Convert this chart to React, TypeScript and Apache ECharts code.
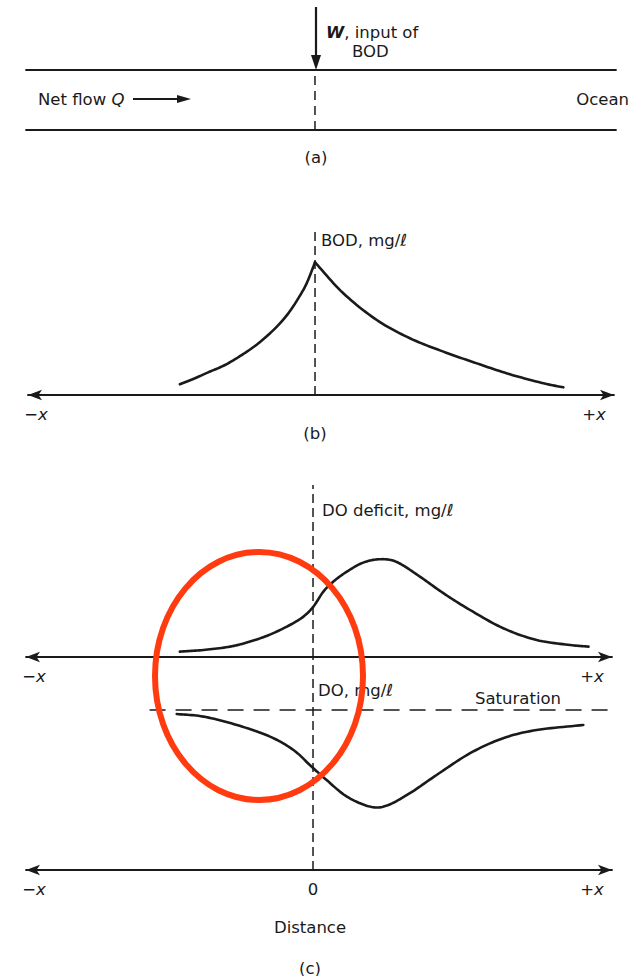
import React, { useEffect, useRef } from "react";
import * as echarts from "echarts";

// Panel (b): BOD vs distance (distance units, BOD in mg/ℓ, arbitrary scale)
const bodLeftDist = [-3.39, -3.01, -2.68, -2.26, -1.84, -1.42, -1.0, -0.67, -0.42, -0.21, 0];
const bodLeftVal = [0.66, 1.03, 1.39, 1.84, 2.45, 3.17, 4.09, 5.01, 5.93, 6.85, 8.14];
const bodRightDist = [0, 0.71, 1.55, 2.38, 3.22, 4.06, 4.89, 5.73, 6.23];
const bodRightVal = [8.14, 6.24, 4.6, 3.48, 2.66, 1.94, 1.27, 0.72, 0.47];

// Panel (c): DO deficit and DO vs distance
const deficitDist = [-3.34, -2.75, -2.08, -1.58, -1.08, -0.58, -0.24, 0.01, 0.26, 0.51, 0.85, 1.26, 1.68, 2.1, 2.68, 3.27, 3.94, 4.77, 5.61, 6.45, 6.91];
const deficitVal = [0.27, 0.35, 0.52, 0.77, 1.12, 1.6, 2.02, 2.52, 3.27, 3.77, 4.27, 4.72, 4.89, 4.75, 4.02, 3.19, 2.35, 1.44, 0.85, 0.6, 0.52];
const doDist = [-3.42, -2.75, -1.91, -1.08, -0.49, -0.08, 0.34, 0.85, 1.43, 1.85, 2.43, 3.1, 3.94, 4.77, 5.61, 6.78];
const doVal = [7.8, 7.67, 7.25, 6.67, 6.0, 5.25, 4.5, 3.67, 3.17, 3.22, 3.84, 4.75, 5.84, 6.59, 7.0, 7.25];
const saturationDist = [-4.1, 7.5];
const saturationVal = [8, 8];

// Axis ranges and tick labels
const xMin = -7.2;
const xMax = 7.5;
const tickValuesEnds = [-7.0, 7.0];
const tickLabelsEnds = ["{n|−}{i|x}", "{n|+}{i|x}"];
const tickValuesDist = [-7.0, 0, 7.0];
const tickLabelsDist = ["{n|−}{i|x}", "{n|0}", "{n|+}{i|x}"];
const bodMax = 10;
const deficitMax = 8.6;
const doMax = 10.65;

const INK = "#1a1a1a";
const FONT = "DejaVu Sans";
const FS = 16.5;

const zip = (xs: number[], ys: number[]) => xs.map((x, i) => [x, ys[i]]);

// Catmull-Rom spline through pixel points -> dense polyline for a smooth hand-drawn look
function spline(pts: number[][], steps = 12): number[][] {
  const n = pts.length;
  if (n < 3) return pts;
  const out: number[][] = [pts[0]];
  for (let i = 0; i < n - 1; i++) {
    const p1 = pts[i];
    const p2 = pts[i + 1];
    const p0 = i > 0 ? pts[i - 1] : [2 * p1[0] - p2[0], 2 * p1[1] - p2[1]];
    const p3 = i + 2 < n ? pts[i + 2] : [2 * p2[0] - p1[0], 2 * p2[1] - p1[1]];
    const c1 = [p1[0] + (p2[0] - p0[0]) / 6, p1[1] + (p2[1] - p0[1]) / 6];
    const c2 = [p2[0] - (p3[0] - p1[0]) / 6, p2[1] - (p3[1] - p1[1]) / 6];
    for (let s = 1; s <= steps; s++) {
      const t = s / steps;
      const u = 1 - t;
      const a = u * u * u, b = 3 * u * u * t, c = 3 * u * t * t, d = t * t * t;
      out.push([
        a * p1[0] + b * c1[0] + c * c2[0] + d * p2[0],
        a * p1[1] + b * c1[1] + c * c2[1] + d * p2[1],
      ]);
    }
  }
  return out;
}

export default function App() {
  const ref = useRef<HTMLDivElement>(null);
  useEffect(() => {
    document.body.style.margin = "0";
    const chart = echarts.init(ref.current!, null, { renderer: "svg" });

    const rich = {
      n: { fontFamily: FONT, fontSize: FS, color: INK },
      i: { fontFamily: FONT, fontSize: FS, color: INK, fontStyle: "italic" },
    };
    const labelFor = (vals: number[], labels: string[]) => (v: number) => {
      const k = vals.findIndex((t) => Math.abs(t - v) < 1e-6);
      return k >= 0 ? labels[k] : "";
    };
    const plainX = (grid: number, position: string) => ({
      type: "value",
      gridIndex: grid,
      position,
      min: xMin,
      max: xMax,
      axisLine: { show: true, onZero: false, lineStyle: { color: INK, width: 1.8 } },
      axisTick: { show: false },
      axisLabel: { show: false },
      splitLine: { show: false },
    });
    const arrowX = (grid: number, vals: number[], labels: string[]) => ({
      type: "value",
      gridIndex: grid,
      min: xMin,
      max: xMax,
      axisLine: {
        show: true,
        onZero: true,
        symbol: ["arrow", "arrow"],
        symbolSize: [8, 14],
        lineStyle: { color: INK, width: 1.8 },
      },
      axisTick: { show: false },
      splitLine: { show: false },
      axisLabel: {
        show: true,
        customValues: vals,
        margin: 11,
        formatter: labelFor(vals, labels),
        rich,
      },
    });
    const hiddenY = (grid: number, max: number) => ({
      type: "value",
      gridIndex: grid,
      min: 0,
      max,
      show: false,
      splitLine: { show: false },
    });
    const curve = (x: number, y: number, data: number[][], name: string) => ({
      type: "custom",
      name,
      xAxisIndex: x,
      yAxisIndex: y,
      data,
      clip: false,
      z: 5,
      renderItem: (params: any, api: any) => {
        if (params.dataIndex !== 0) return null;
        const pts = data.map((d) => api.coord(d));
        return {
          type: "polyline",
          shape: { points: spline(pts) },
          style: { stroke: INK, lineWidth: 2.6, fill: "none", lineCap: "round", lineJoin: "round" },
        };
      },
    });
    const dashed = (x: number, y: number, data: number[][], name: string, dash: number[]) => ({
      type: "line",
      name,
      xAxisIndex: x,
      yAxisIndex: y,
      data,
      showSymbol: false,
      lineStyle: { color: INK, width: 1.5, type: dash },
      z: 4,
    });

    const txt = (x: number, y: number, text: string, extra: any = {}) => ({
      type: "text",
      x,
      y,
      style: {
        text,
        fontFamily: FONT,
        fontSize: FS,
        fill: INK,
        textVerticalAlign: "middle",
        verticalAlign: "middle",
        ...extra,
      },
      z: 10,
    });

    chart.setOption({
      animation: false,
      backgroundColor: "#ffffff",
      grid: [
        { left: 26, width: 590, top: 70, height: 60 },
        { left: 28, width: 586, top: 232, height: 163 },
        { left: 26, width: 586, top: 485, height: 172 },
        { left: 26, width: 586, top: 657, height: 213 },
      ],
      xAxis: [
        plainX(0, "bottom"),
        plainX(0, "top"),
        arrowX(1, tickValuesEnds, tickLabelsEnds),
        arrowX(2, tickValuesEnds, tickLabelsEnds),
        arrowX(3, tickValuesDist, tickLabelsDist),
      ],
      yAxis: [hiddenY(0, 1), hiddenY(1, bodMax), hiddenY(2, deficitMax), hiddenY(3, doMax)],
      series: [
        dashed(0, 0, [[0, 0], [0, 1]], "outfall", [9, 6]),
        dashed(2, 1, [[0, 0], [0, bodMax]], "origin b", [9, 5]),
        curve(2, 1, zip(bodLeftDist, bodLeftVal), "BOD upstream"),
        curve(2, 1, zip(bodRightDist, bodRightVal), "BOD downstream"),
        dashed(3, 2, [[0, 0], [0, deficitMax]], "origin c1", [9, 5]),
        curve(3, 2, zip(deficitDist, deficitVal), "DO deficit"),
        dashed(4, 3, [[0, 0], [0, doMax]], "origin c2", [9, 5]),
        dashed(4, 3, zip(saturationDist, saturationVal), "Saturation", [16, 10]),
        curve(4, 3, zip(doDist, doVal), "DO"),
      ],
      graphic: [
        // W input arrow
        { type: "line", shape: { x1: 316, y1: 7, x2: 316, y2: 58 }, style: { stroke: INK, lineWidth: 2.2 }, z: 10 },
        { type: "polygon", shape: { points: [[311, 55], [321, 55], [316, 70]] }, style: { fill: INK }, z: 10 },
        txt(326, 32, "{b|W}, input of", {
          rich: { b: { fontFamily: FONT, fontSize: FS, fontWeight: "bold", fontStyle: "italic", fill: INK } },
        }),
        txt(352, 51, "BOD"),
        // Net flow
        txt(38, 99, "Net flow {i|Q}", {
          rich: { i: { fontFamily: FONT, fontSize: FS, fontStyle: "italic", fill: INK } },
        }),
        { type: "line", shape: { x1: 133, y1: 99, x2: 180, y2: 99 }, style: { stroke: INK, lineWidth: 1.8 }, z: 10 },
        { type: "polygon", shape: { points: [[177, 95], [177, 103], [191, 99]] }, style: { fill: INK }, z: 10 },
        txt(629, 99, "Ocean", { textAlign: "right", align: "right" }),
        txt(316, 157, "(a)", { textAlign: "center", align: "center" }),
        // Panel b
        txt(321, 240, "BOD, mg/ℓ"),
        txt(315, 433, "(b)", { textAlign: "center", align: "center" }),
        // Panel c
        txt(322, 510, "DO deficit, mg/ℓ"),
        txt(318, 690, "DO, mg/ℓ"),
        txt(475, 698, "Saturation"),
        txt(310, 927, "Distance", { textAlign: "center", align: "center" }),
        txt(310, 968, "(c)", { textAlign: "center", align: "center" }),
        // red annotation ellipse
        {
          type: "ellipse",
          shape: { cx: 259, cy: 676, rx: 104, ry: 124 },
          style: { fill: "none", stroke: "#ff3b0f", lineWidth: 6 },
          z: 20,
        },
      ],
    });
    return () => chart.dispose();
  }, []);
  return <div ref={ref} style={{ width: 631, height: 976 }} />;
}
